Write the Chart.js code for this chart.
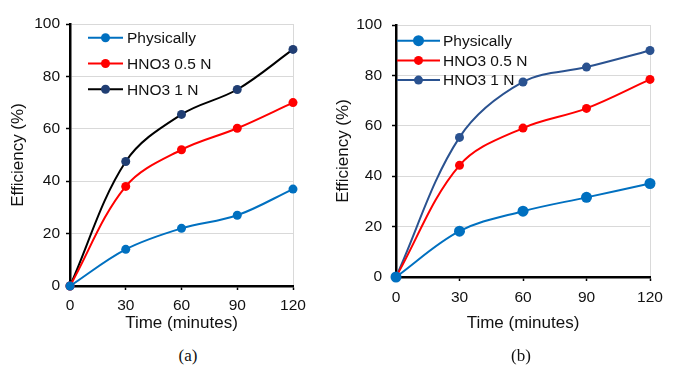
<!DOCTYPE html>
<html>
<head>
<meta charset="utf-8">
<script src="https://cdn.jsdelivr.net/npm/chart.js@4/dist/chart.umd.min.js"></script>
<style>
  body { margin: 0; background: #fff; width: 674px; height: 369px; position: relative; overflow: hidden; }
  .box { position: absolute; top: 0; height: 340px; }
  #boxA { left: 0; width: 337px; }
  #boxB { left: 320px; width: 354px; }
  .caption { position: absolute; top: 346px; font: 17px "Liberation Serif", "Times New Roman", serif; color: #111; transform: translateX(-50%); }
</style>
</head>
<body>
<div class="box" id="boxA"><canvas id="chartA"></canvas></div>
<div class="box" id="boxB"><canvas id="chartB"></canvas></div>
<div class="caption" style="left:188px">(a)</div>
<div class="caption" style="left:521px">(b)</div>

<script>
// ---- data ----
const tiempos = [0, 30, 60, 90, 120];
const nombres = ["Physically", "HNO3 0.5 N", "HNO3 1 N"];
const yTicks = [0, 20, 40, 60, 80, 100];

// chart (a)
const fisicoA = [0, 14, 22, 27, 37];
const hno3MedioA = [0, 38, 52, 60.2, 70];
const hno3UnoA = [0, 47.5, 65.5, 75, 90.3];

// chart (b)
const fisicoB = [0, 18.2, 26.1, 31.6, 37.1];
const hno3MedioB = [0, 44.3, 59.1, 66.9, 78.4];
const hno3UnoB = [0, 55.4, 77.4, 83.3, 89.9];

const FONT = "'Liberation Sans', Arial, sans-serif";
const TXT = "#111";
const GRID = "#D9D9D9";

function puntos(valores) {
  return tiempos.map((t, i) => ({ x: t, y: valores[i] }));
}

/* legend drawn inside the plot area */
const leyendaInterna = {
  id: "leyendaInterna",
  afterDatasetsDraw(chart, args, opts) {
    const ctx = chart.ctx;
    ctx.save();
    ctx.font = "15.5px " + FONT;
    ctx.textBaseline = "middle";
    ctx.fillStyle = TXT;
    chart.data.datasets.forEach((ds, i) => {
      const y = opts.y0 + i * opts.rowH;
      ctx.strokeStyle = ds.borderColor;
      ctx.lineWidth = 2;
      ctx.beginPath();
      ctx.moveTo(opts.x0, y);
      ctx.lineTo(opts.x1, y);
      ctx.stroke();
      ctx.fillStyle = ds.pointBackgroundColor;
      ctx.beginPath();
      ctx.arc((opts.x0 + opts.x1) / 2, y, ds.pointRadius, 0, Math.PI * 2);
      ctx.fill();
      ctx.fillStyle = TXT;
      ctx.fillText(ds.label, opts.textX, y + 1);
    });
    ctx.restore();
  }
};

function serie(label, valores, lineColor, dotColor, radio) {
  return {
    label,
    data: puntos(valores),
    borderColor: lineColor,
    backgroundColor: dotColor,
    pointBackgroundColor: dotColor,
    pointBorderColor: dotColor,
    pointBorderWidth: 0,
    pointRadius: radio,
    borderWidth: 2,
    tension: 0.35,
    clip: false
  };
}

function crearGrafica(id, datasets, cfg) {
  new Chart(document.getElementById(id), {
    type: "line",
    data: { datasets },
    plugins: [leyendaInterna],
    options: {
      responsive: true,
      maintainAspectRatio: false,
      animation: false,
      events: [],
      layout: { padding: { left: 0, top: cfg.top, right: cfg.right, bottom: 0 } },
      plugins: {
        legend: { display: false },
        tooltip: { enabled: false },
        leyendaInterna: cfg.legend
      },
      scales: {
        x: {
          type: "linear",
          min: 0,
          max: 120,
          afterBuildTicks: s => { s.ticks = tiempos.map(v => ({ value: v })); },
          afterFit: s => { s.height = cfg.xHeight; },
          border: { color: "#000", width: 2.5 },
          grid: {
            color: c => (c.tick && c.tick.value === 120 ? GRID : "rgba(0,0,0,0)"),
            lineWidth: 1,
            tickColor: "#000",
            tickLength: 4,
            tickWidth: 1.5
          },
          ticks: { color: TXT, font: { family: FONT, size: 15.5 }, padding: cfg.xPad, maxRotation: 0 },
          title: {
            display: true,
            text: "Time (minutes)",
            color: TXT,
            font: { family: FONT, size: 17 },
            padding: { top: 0, bottom: 6 }
          }
        },
        y: {
          min: 0,
          max: 100,
          afterBuildTicks: s => { s.ticks = yTicks.map(v => ({ value: v })); },
          afterFit: s => { s.width = cfg.yWidth; },
          border: { color: "#000", width: 2.5 },
          grid: { color: GRID, lineWidth: 1, tickColor: "#000", tickLength: 4, tickWidth: 1.5 },
          ticks: { color: TXT, font: { family: FONT, size: 15.5 }, padding: cfg.yPad },
          title: {
            display: true,
            text: "Efficiency (%)",
            color: TXT,
            font: { family: FONT, size: 17 },
            padding: { top: cfg.yTitlePad, bottom: 0 }
          }
        }
      }
    }
  });
}

/* ===== (a) ===== */
crearGrafica("chartA", [
  serie(nombres[0], fisicoA, "#0070C0", "#0070C0", 4.5),
  serie(nombres[1], hno3MedioA, "#FF0000", "#FF0000", 4.5),
  serie(nombres[2], hno3UnoA, "#000000", "#203E73", 4.5)
], {
  top: 24, right: 44, xHeight: 54, yWidth: 70, xPad: 6, yPad: 6, yTitlePad: 8,
  legend: { x0: 88, x1: 123, textX: 127, y0: 37.7, rowH: 25.8 }
});

/* ===== (b) ===== */
crearGrafica("chartB", [
  serie(nombres[0], fisicoB, "#0070C0", "#0070C0", 5.5),
  serie(nombres[1], hno3MedioB, "#FF0000", "#FF0000", 4.5),
  serie(nombres[2], hno3UnoB, "#2A5290", "#2A5290", 4.5)
], {
  top: 25, right: 24, xHeight: 63, yWidth: 76, xPad: 7, yPad: 10, yTitlePad: 13,
  legend: { x0: 77, x1: 120, textX: 123, y0: 40.7, rowH: 19.7 }
});
</script>
</body>
</html>
